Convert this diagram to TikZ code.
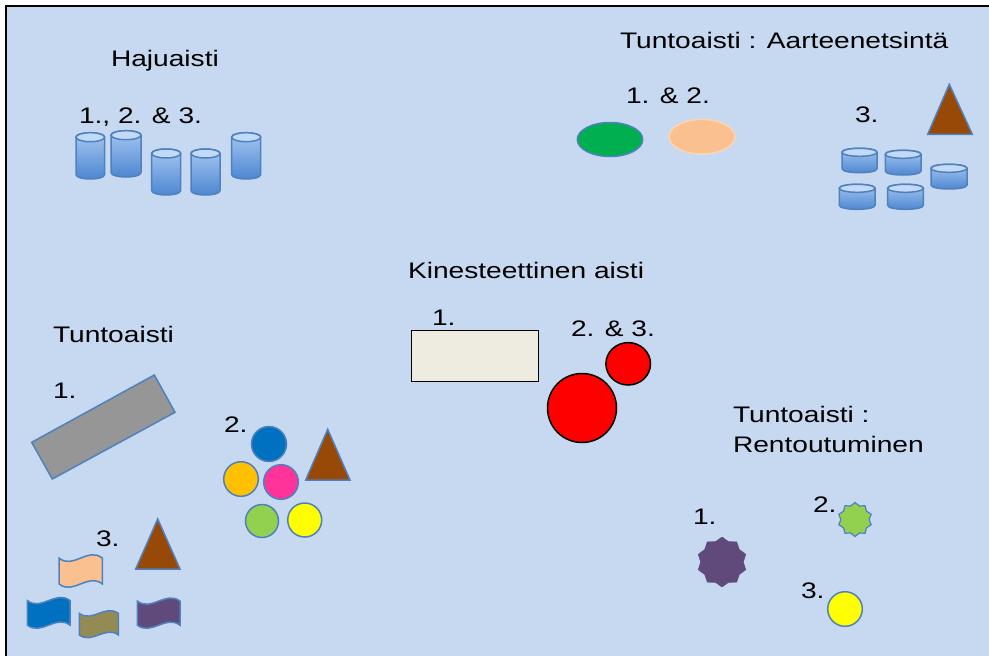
\documentclass[tikz,border=0pt]{standalone}
\usepackage{fontspec}
\setmainfont{Liberation Sans}[FakeStretch=1.25]
\usetikzlibrary{shapes.geometric}
\definecolor{bg}{HTML}{C6D9F1}
\definecolor{cylline}{HTML}{4F81BD}
\definecolor{cyllight}{HTML}{A9C9F2}
\definecolor{cyldark}{HTML}{4A84D0}
\definecolor{cyltopc}{HTML}{C2D9F7}
\definecolor{brownc}{HTML}{984807}
\definecolor{grayc}{HTML}{969696}
\definecolor{greenc}{HTML}{00B050}
\definecolor{peachc}{HTML}{FAC090}
\definecolor{peachline}{HTML}{FCD5B4}
\definecolor{bluec}{HTML}{0070C0}
\definecolor{orangec}{HTML}{FFC000}
\definecolor{pinkc}{HTML}{FF3399}
\definecolor{lgreenc}{HTML}{92D050}
\definecolor{yellowc}{HTML}{FFFF00}
\definecolor{olivec}{HTML}{948A54}
\definecolor{purplec}{HTML}{604A7B}
\definecolor{beigec}{HTML}{EEECE1}
\definecolor{redc}{HTML}{FF0000}
\newcommand\drawcyl[5]{%
  \path[draw=cylline, line width=1.5pt, top color=cyllight, bottom color=cyldark]
    (#1,{#2+#5}) -- (#1,{#2+#4-#5})
    .. controls (#1,{#2+#4-#5+1.333*#5}) and ({#1+#3},{#2+#4-#5+1.333*#5}) .. ({#1+#3},{#2+#4-#5})
    -- ({#1+#3},{#2+#5})
    .. controls ({#1+#3},{#2+#5-1.333*#5}) and (#1,{#2+#5-1.333*#5}) .. cycle;
  \path[draw=cylline, line width=1.5pt, fill=cyltopc] ({#1+#3/2},{#2+#5}) ellipse [x radius={#3/2}, y radius=#5];}
\newcommand\drawwave[5]{%
  \path[draw=cylline, line width=1.5pt, fill=#5]
    (#1,{#2+0.12*#4}) .. controls ({#1+#3/3},{#2+0.12*#4+0.34*#4}) and ({#1+2*#3/3},{#2+0.12*#4-0.34*#4}) .. ({#1+#3},{#2+0.12*#4})
    -- ({#1+#3},{#2+0.88*#4})
    .. controls ({#1+2*#3/3},{#2+0.88*#4-0.34*#4}) and ({#1+#3/3},{#2+0.88*#4+0.34*#4}) .. (#1,{#2+0.88*#4}) -- cycle;}
\begin{document}
\begin{tikzpicture}[x=1pt,y=-1pt,
  lbl/.style={anchor=base west, inner sep=0pt, outer sep=0pt, font=\fontsize{22.5}{30}\selectfont},
  tri/.style={draw=cylline, line width=1.5pt, fill=brownc, line join=miter},
  dot/.style={draw=cylline, line width=1.5pt}]
\useasboundingbox (0,0) rectangle (989,656);
\clip (0,0) rectangle (989,656);
\fill[white] (0,0) rectangle (989,656);
\filldraw[fill=bg, draw=black, line width=2.5pt] (6,6) rectangle (1000,670);

% ---- Hajuaisti
\node[lbl] (haju) at (111,66) {Hajuaisti};
\node[lbl] (haju123) at (79,123) {1., 2. \& 3.};
\drawcyl{76}{132.7}{28.6}{46.3}{4.5}
\drawcyl{111}{130.7}{30}{46.3}{4.5}
\drawcyl{151.7}{149}{29}{46}{4.5}
\drawcyl{191}{149}{29}{46}{4.5}
\drawcyl{231.7}{132.7}{29}{46.3}{4.5}

% ---- Tuntoaisti : Aarteenetsinta
\node[lbl] (aarre) at (620,48) {Tuntoaisti : Aarteenetsintä};
\node[lbl] (aarre12) at (626,103) {1. \& 2.};
\node[lbl] (aarre3) at (855,122) {3.};
\path[draw=cylline, line width=1.5pt, fill=greenc] (610,139.5) ellipse [x radius=32.7, y radius=17];
\path[draw=peachline, line width=1.5pt, fill=peachc] (702,136.7) ellipse [x radius=33, y radius=17.3];
\path[tri] (949.3,84.3) -- (972.3,134.3) -- (927.7,134.3) -- cycle;
\drawcyl{842}{148.3}{35}{24.4}{4}
\drawcyl{885.3}{150.3}{35.7}{24.7}{4}
\drawcyl{931}{164.3}{36}{24.7}{4}
\drawcyl{839.3}{184.3}{35.7}{25}{4}
\drawcyl{887.7}{184.3}{35.6}{25}{4}

% ---- Kinesteettinen aisti
\node[lbl] (kin) at (408,278) {Kinesteettinen aisti};
\node[lbl] (kin1) at (432,325) {1.};
\node[lbl] (kin23) at (571,336) {2. \& 3.};
\path[draw=black, line width=1.5pt, fill=beigec] (411.7,330.7) rectangle (538.3,381.7);
\path[draw=black, line width=1.5pt, fill=redc] (582,408) circle [radius=34.5];
\path[draw=black, line width=1.5pt, fill=redc] (628.2,363.8) ellipse [x radius=22.3, y radius=21.2];

% ---- Tuntoaisti (left)
\node[lbl] (tunto) at (53,342) {Tuntoaisti};
\node[lbl] (tunto1) at (53,398) {1.};
\node[lbl] (tunto2) at (224,432) {2.};
\node[lbl] (tunto3) at (96,546) {3.};
\path[draw=cylline, line width=1.5pt, fill=grayc] (31.7,442.3) -- (154.3,375) -- (175,412.3) -- (52.3,479) -- cycle;
\path[dot, fill=bluec] (269,444) circle [radius=17.5];
\path[dot, fill=orangec] (241,479) circle [radius=17.3];
\path[dot, fill=pinkc] (281,482) circle [radius=17.3];
\path[dot, fill=lgreenc] (262,521) circle [radius=16.5];
\path[dot, fill=yellowc] (304.7,520) circle [radius=17];
\path[tri] (327.7,429.3) -- (350,480) -- (305.7,480) -- cycle;
\path[tri] (157.7,519) -- (180,569) -- (135.7,569) -- cycle;
\drawwave{59}{554}{43.3}{34}{peachc}
\drawwave{27.3}{596.7}{42.7}{32.3}{bluec}
\drawwave{79.3}{610}{39}{28.3}{olivec}
\drawwave{137.3}{597.3}{42.7}{31.7}{purplec}

% ---- Tuntoaisti : Rentoutuminen
\node[lbl, align=left] (rento) at (733,452) {Tuntoaisti :\\Rentoutuminen};
\node[lbl] (rento1) at (693,524) {1.};
\node[lbl] (rento2) at (813,512) {2.};
\node[lbl] (rento3) at (801,598) {3.};
\node[star, star points=10, star point ratio=1.17, minimum size=50pt, inner sep=0pt, fill=purplec, draw=purplec] (star1) at (722,562) {};
\node[star, star points=10, star point ratio=1.2, minimum size=34pt, inner sep=0pt, fill=lgreenc, draw=cylline, line width=1.2pt] (star2) at (855,519.5) {};
\path[dot, fill=yellowc] (845,609) circle [radius=17.3];
\end{tikzpicture}
\end{document}
